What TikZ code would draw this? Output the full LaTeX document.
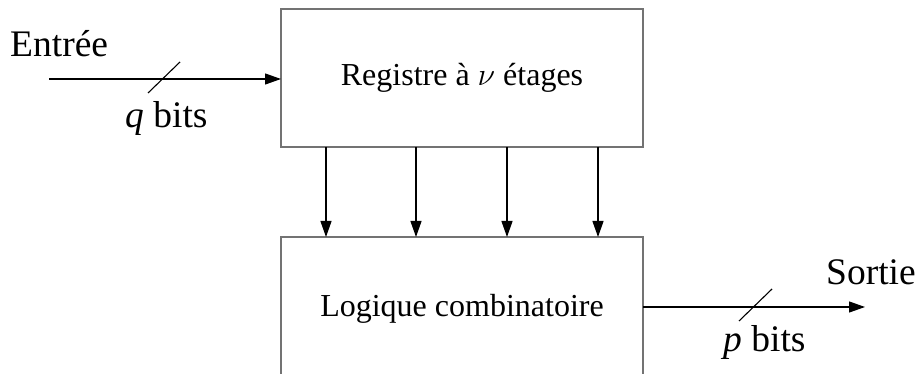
\RequirePackage{fix-cm}
\documentclass[tikz,border=0pt]{standalone}
\usepackage{fontspec}
\setmainfont{Liberation Serif}
\usetikzlibrary{arrows.meta}
\begin{document}
\begin{tikzpicture}[x=1pt,y=1pt,
  blk/.style={draw=black!55, line width=1.4pt, inner sep=0pt},
  conn/.style={draw=black, line width=1.2pt, -{Triangle[length=16pt,width=11pt]}},
  slash/.style={draw=black, line width=1.1pt},
  lbl/.style={inner sep=0pt, font=\fontsize{37.5}{40}\selectfont},
  btxt/.style={inner sep=0pt, font=\fontsize{32}{36}\selectfont}]
\useasboundingbox (0,0) rectangle (920,374);
% boxes
\draw[blk] (281,227) rectangle (643,365);
\coordinate (regW) at (281,295);
\draw[blk] (281,-10) rectangle (643,137);
\coordinate (logE) at (643,67);
\node[btxt, anchor=base] (reg) at (462,288) {Registre à $\nu$ étages};
\node[btxt, anchor=base] (log) at (462,57) {Logique combinatoire};
% input
\coordinate (in) at (49,295);
\draw[conn] (in) -- (regW);
\coordinate (s1a) at (148,281);
\coordinate (s1b) at (180,312);
\draw[slash] (s1a) -- (s1b);
\node[lbl, anchor=base west] (entree) at (10,317) {Entrée};
\node[lbl, anchor=base west] (qb) at (125,246) {\textit{q} bits};
% vertical connectors
\foreach \x/\n in {326/a,416/b,507/c,598/d}{
  \coordinate (t\n) at (\x,227);
  \coordinate (b\n) at (\x,137);
  \draw[conn] (t\n) -- (b\n);
}
% output
\coordinate (out) at (865,67);
\draw[conn] (logE) -- (out);
\coordinate (s2a) at (739,53);
\coordinate (s2b) at (772,85);
\draw[slash] (s2a) -- (s2b);
\node[lbl, anchor=base west] (sortie) at (826,89) {Sortie};
\node[lbl, anchor=base west] (pb) at (723,22) {\textit{p} bits};
\end{tikzpicture}
\end{document}
